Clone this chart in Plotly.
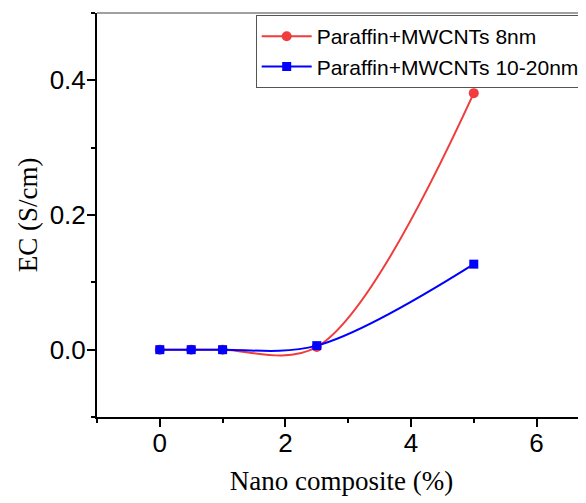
import plotly.graph_objects as go

# Data
x_vals = [0, 0.5, 1, 2.5, 5]
ec_8nm = [0.0, 0.0, 0.0, 0.004, 0.381]
ec_10_20nm = [0.0, 0.0, 0.0, 0.006, 0.127]
series_names = ["Paraffin+MWCNTs 8nm", "Paraffin+MWCNTs 10-20nm"]
x_title = "Nano composite (%)"
y_title = "EC (S/cm)"

fig = go.Figure()
fig.add_trace(go.Scatter(
    x=x_vals, y=ec_8nm, name=series_names[0], mode="lines+markers",
    line=dict(color="#F03C3C", width=2, shape="spline", smoothing=1.0),
    marker=dict(symbol="circle", size=10, color="#F03C3C"),
))
fig.add_trace(go.Scatter(
    x=x_vals, y=ec_10_20nm, name=series_names[1], mode="lines+markers",
    line=dict(color="#0000FF", width=2, shape="spline", smoothing=1.0),
    marker=dict(symbol="square", size=9, color="#0000FF"),
))

tick_font = dict(family="Liberation Sans, Arial, sans-serif", size=26, color="black")
title_font = dict(family="Liberation Serif, Times New Roman, serif", size=27, color="black")

# The page body has an 8px margin, so the figure is sized/offset to compensate.
fig.update_layout(
    width=578, height=495,
    margin=dict(l=89, r=0, t=5, b=86, autoexpand=False),
    paper_bgcolor="white", plot_bgcolor="white",
    showlegend=True,
    legend=dict(
        x=0.3245, y=0.995, xanchor="left", yanchor="top",
        bgcolor="white", bordercolor="#555555", borderwidth=1,
        font=dict(family="Liberation Sans, Arial, sans-serif", size=21, color="black"),
        itemwidth=50, tracegroupgap=0,
    ),
    xaxis=dict(
        range=[-1, 6.787], showgrid=False, zeroline=False,
        showline=True, linecolor="black", linewidth=2,
        ticks="outside", ticklen=8, tickwidth=1.5, tickcolor="black",
        tick0=0, dtick=2, tickfont=tick_font, ticklabelstandoff=-6,
        minor=dict(ticks="outside", ticklen=4, tickwidth=1.5, tickcolor="black", dtick=1, tick0=0),
        title=dict(text=x_title, font=title_font, standoff=14),
    ),
    yaxis=dict(
        range=[-0.1, 0.5], showgrid=False, zeroline=False,
        showline=True, linecolor="black", linewidth=2,
        ticks="outside", ticklen=8, tickwidth=1.5, tickcolor="black",
        tick0=0, dtick=0.2, tickformat=".1f", tickfont=tick_font, ticklabelstandoff=-4,
        minor=dict(ticks="outside", ticklen=4, tickwidth=1.5, tickcolor="black", dtick=0.1, tick0=0),
        title=dict(text=y_title, font=title_font, standoff=4),
    ),
    shapes=[dict(type="line", xref="paper", yref="paper", x0=0, x1=1, y0=1, y1=1,
                 line=dict(color="#808080", width=1.5))],
)

fig.write_html("out.html")
